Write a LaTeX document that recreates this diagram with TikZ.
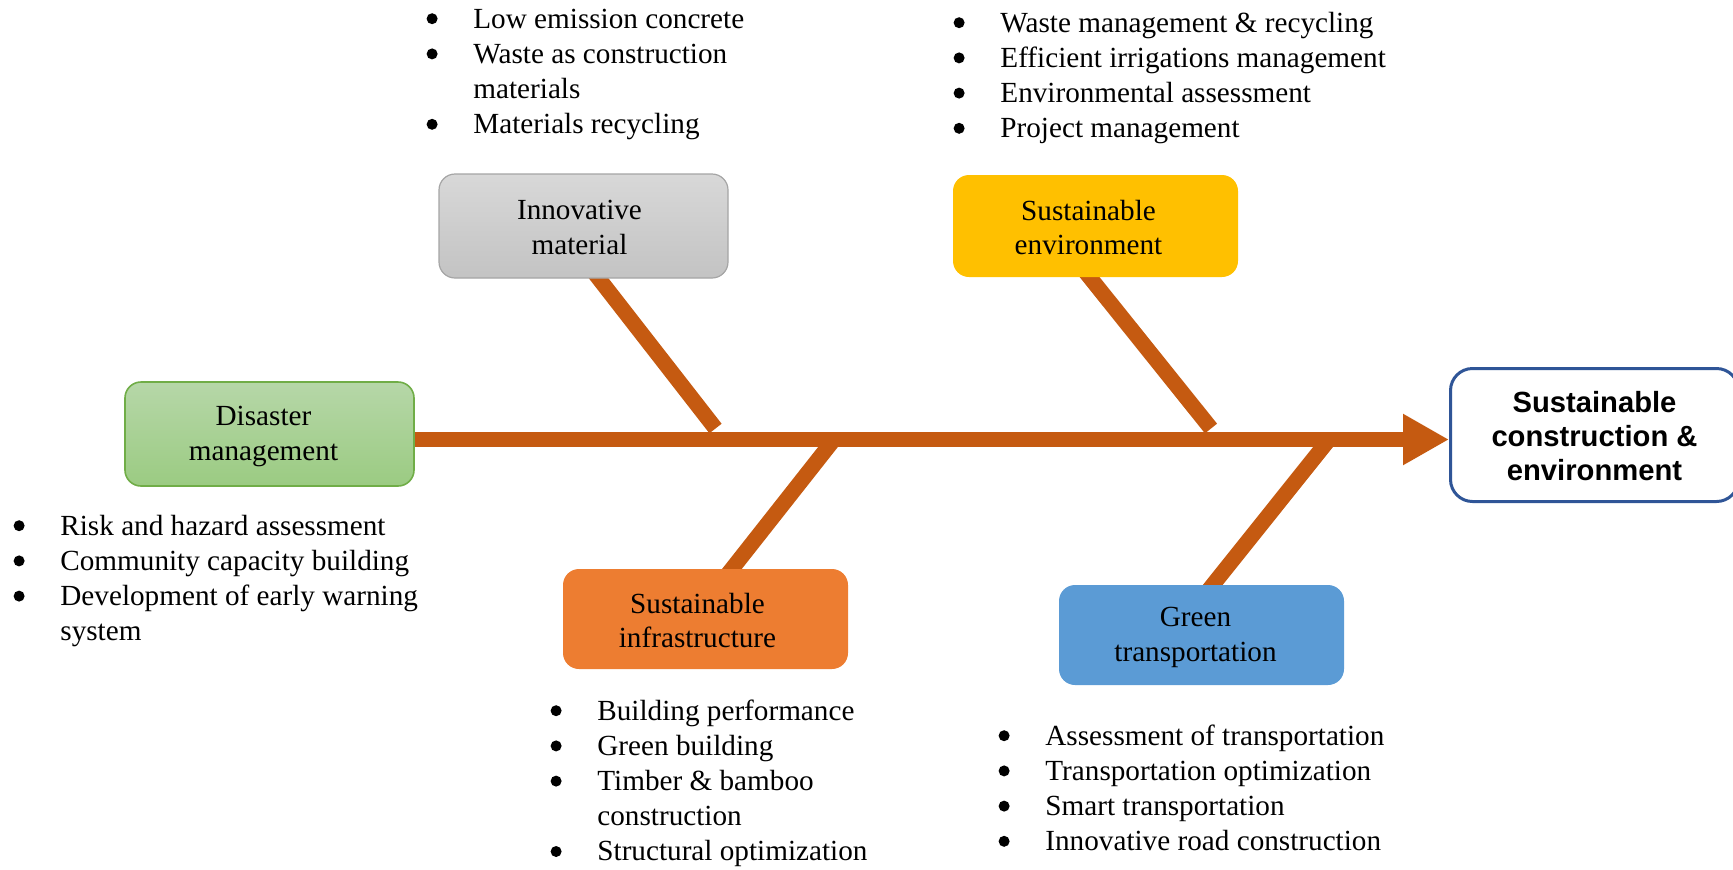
\documentclass[tikz,border=0pt]{standalone}
\usepackage{fontspec}
\setmainfont{Liberation Serif}
\newfontfamily\boldsans{Liberation Sans}
\usetikzlibrary{arrows.meta}
\definecolor{spinec}{HTML}{C55A11}
\definecolor{dmtop}{HTML}{B6D7A8}
\definecolor{dmbot}{HTML}{9BCB82}
\definecolor{dmline}{HTML}{70AD47}
\definecolor{imtop}{HTML}{D8D8D8}
\definecolor{imbot}{HTML}{C3C3C3}
\definecolor{imline}{HTML}{A5A5A5}
\definecolor{sec}{HTML}{FFC000}
\definecolor{sic}{HTML}{ED7D31}
\definecolor{gtc}{HTML}{5B9BD5}
\definecolor{finline}{HTML}{2F5597}
\newcommand{\bul}{\hspace*{1.1pt}\tikz[baseline=0pt]\fill[black] (0pt,4.65pt) circle[radius=2.75pt];}
\newenvironment{blist}{\begin{tabular}[t]{@{}p{24.5pt}@{}l@{}}}{\end{tabular}}
\tikzset{
  catbox/.style={rounded corners=8pt, minimum width=142.5pt, minimum height=50pt, inner sep=0pt},
  boxtext/.style={align=center, inner sep=0pt, font=\fontsize{14.6}{17.3}\selectfont},
  listtext/.style={anchor=base west, inner sep=0pt, font=\fontsize{14.6}{17.6}\selectfont},
  bone/.style={draw=spinec, line width=7.75pt, line cap=butt},
  spineline/.style={draw=spinec, line width=7.5pt, -{Triangle[length=23pt,width=24pt]}},
}
\begin{document}
\begin{tikzpicture}[x=0.5pt,y=-0.5pt]
\clip (0,0) rectangle (1733,869);

% bone coordinates
\coordinate (imA) at (588.3,265);
\coordinate (imB) at (715.5,428.5);
\coordinate (seA) at (1079.9,265);
\coordinate (seB) at (1211,428.5);
\coordinate (siA) at (833.9,439.5);
\coordinate (siB) at (723.2,580);
\coordinate (gtA) at (1329,439.5);
\coordinate (gtB) at (1204.7,595);
\coordinate (sp) at (0,439.5);

\draw[bone] (imA) -- (imB);
\draw[bone] (seA) -- (seB);
\draw[bone] (siA) -- (siB);
\draw[bone] (gtA) -- (gtB);

% boxes
\node[catbox, draw=dmline, line width=0.8pt, top color=dmtop, bottom color=dmbot,
      minimum width=144.5pt, minimum height=52pt] (dm) at (269.5,434) {};
\node[catbox, draw=imline, line width=0.6pt, top color=imtop, bottom color=imbot,
      minimum width=144.5pt, minimum height=52pt] (im) at (583.5,226) {};
\node[catbox, fill=sec, minimum height=51pt] (se) at (1095.5,226) {};
\node[catbox, fill=sic] (si) at (705.5,619) {};
\node[catbox, fill=gtc] (gt) at (1201.5,635) {};
\node[draw=finline, line width=1.5pt, fill=white, rounded corners=11pt, inner sep=0pt,
      minimum width=144pt, minimum height=66.5pt] (fin) at (1594.5,435) {};

\draw[spineline] (dm.east |- sp) -- (fin.west |- sp);

% box texts
\node[boxtext] (dmt) at ([xshift=-3pt,yshift=-1.2pt]dm.center) {Disaster\\management};
\node[boxtext] (imt) at ([xshift=-2pt,yshift=-0.8pt]im.center) {Innovative\\material};
\node[boxtext] (set) at ([xshift=-3.5pt,yshift=-0.8pt]se.center) {Sustainable\\environment};
\node[boxtext] (sit) at ([xshift=-4pt,yshift=-0.8pt]si.center) {Sustainable\\infrastructure};
\node[boxtext] (gtt) at ([xshift=-3pt,yshift=-1.2pt]gt.center) {Green\\transportation};
\node[align=center, inner sep=0pt, font=\boldsans\bfseries\fontsize{14.6}{16.9}\selectfont] (fint) at ([yshift=-0.5pt]fin.center)
  {Sustainable\\construction \&\\environment};

% lists (node placed at bullet column left, first baseline)
\node[listtext] (dml) at (11,535) {\begin{blist}
\bul & Risk and hazard assessment\\
\bul & Community capacity building\\
\bul & Development of early warning\\
 & system\end{blist}};
\node[listtext] (iml) at (424,28) {\begin{blist}
\bul & Low emission concrete\\
\bul & Waste as construction\\
 & materials\\
\bul & Materials recycling\end{blist}};
\node[listtext] (sel) at (951,32) {\begin{blist}
\bul & Waste management \& recycling\\
\bul & Efficient irrigations management\\
\bul & Environmental assessment\\
\bul & Project management\end{blist}};
\node[listtext] (sil) at (548,720) {\begin{blist}
\bul & Building performance\\
\bul & Green building\\
\bul & Timber \& bamboo\\
 & construction\\
\bul & Structural optimization\end{blist}};
\node[listtext] (gtl) at (996,745) {\begin{blist}
\bul & Assessment of transportation\\
\bul & Transportation optimization\\
\bul & Smart transportation\\
\bul & Innovative road construction\end{blist}};
\end{tikzpicture}
\end{document}
